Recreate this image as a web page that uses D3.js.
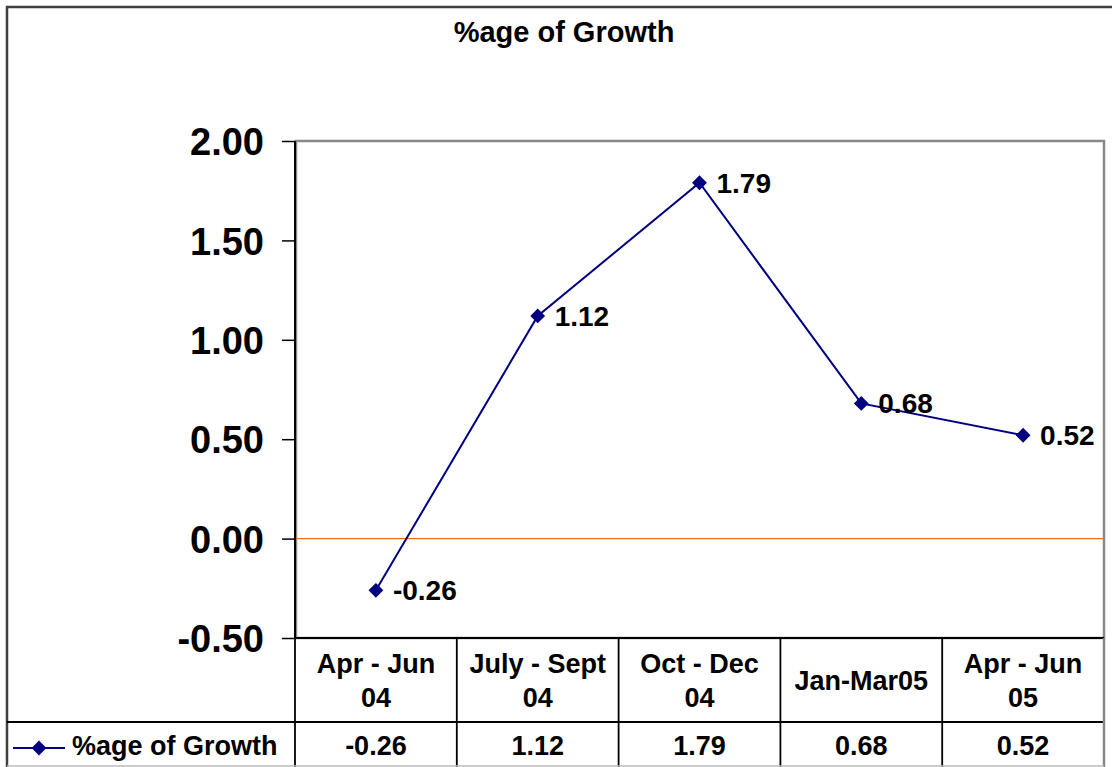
<!DOCTYPE html>
<html>
<head>
<meta charset="utf-8">
<script src="https://cdn.jsdelivr.net/npm/d3@7"></script>
<style>
  body { margin: 0; background: #fff; }
  svg { display: block; font-family: Arial, "Liberation Sans", sans-serif; font-weight: bold; }
</style>
</head>
<body>
<svg id="chart"></svg>
<script>
var categories = ["Apr - Jun 04", "July - Sept 04", "Oct - Dec 04", "Jan-Mar05", "Apr - Jun 05"];
var growth = [-0.26, 1.12, 1.79, 0.68, 0.52];
var yTicks = [-0.5, 0, 0.5, 1, 1.5, 2];
var seriesName = "%age of Growth";

var width = 1112, height = 767;
var plot = { left: 295, right: 1104, top: 141, bottom: 638 };
var tableRow1 = 722; // bottom of category row

// plain hyphen for negatives, like the original
var fmt = d3.formatLocale({ decimal: ".", thousands: ",", grouping: [3], currency: ["", ""], minus: "-" }).format(".2f");

var svg = d3.select("#chart").attr("width", width).attr("height", height);

// outer chart border (right and bottom go off the picture)
svg.append("rect")
  .attr("x", 7).attr("y", 7).attr("width", width + 20).attr("height", height + 20)
  .attr("fill", "#fff").attr("stroke", "#404040").attr("stroke-width", 2.5);

// title
svg.append("text")
  .attr("x", 564).attr("y", 42)
  .attr("text-anchor", "middle")
  .attr("font-size", 29)
  .text(seriesName);

var x = d3.scaleBand().domain(categories).range([plot.left, plot.right]).paddingInner(0).paddingOuter(0);
var y = d3.scaleLinear().domain([-0.5, 2]).range([plot.bottom, plot.top]);

// plot area border (grey top / right)
svg.append("rect")
  .attr("x", plot.left + 1).attr("y", plot.top)
  .attr("width", plot.right - plot.left - 1).attr("height", plot.bottom - plot.top)
  .attr("fill", "none").attr("stroke", "#888").attr("stroke-width", 2.5);

// zero line
svg.append("line")
  .attr("x1", plot.left).attr("x2", plot.right)
  .attr("y1", y(0)).attr("y2", y(0))
  .attr("stroke", "#e8701e").attr("stroke-width", 1.2);

// y axis
var yAxis = d3.axisLeft(y).tickValues(yTicks).tickFormat(fmt).tickSize(13).tickPadding(18);
var gy = svg.append("g").attr("transform", "translate(" + plot.left + ",0)").call(yAxis);
gy.select(".domain").attr("stroke", "#000").attr("stroke-width", 2).attr("d", "M0," + plot.top + "V" + plot.bottom);
gy.selectAll(".tick line").attr("stroke", "#000").attr("stroke-width", 1.5);
gy.selectAll(".tick text")
  .attr("font-size", 38).attr("font-weight", "bold").attr("font-family", "Arial, 'Liberation Sans', sans-serif")
  .attr("fill", "#000").attr("dy", "0.36em");

// data table
var table = svg.append("g").attr("stroke", "#000").attr("stroke-width", 1.8);
table.append("line").attr("x1", plot.left).attr("x2", plot.right).attr("y1", plot.bottom).attr("y2", plot.bottom);
table.append("line").attr("x1", 7).attr("x2", plot.right).attr("y1", tableRow1).attr("y2", tableRow1);
table.selectAll("line.div").data(categories).enter().append("line")
  .attr("class", "div")
  .attr("x1", function (d) { return x(d); }).attr("x2", function (d) { return x(d); })
  .attr("y1", plot.bottom).attr("y2", height);
table.append("line").attr("x1", plot.right).attr("x2", plot.right)
  .attr("y1", plot.bottom).attr("y2", height).attr("stroke", "#888").attr("stroke-width", 2.5);
table.append("line").attr("x1", 7).attr("x2", plot.right).attr("y1", 766).attr("y2", 766)
  .attr("stroke", "#bbb").attr("stroke-width", 1.5);

// category labels (wrapped)
var catText = svg.append("g").selectAll("text").data(categories).enter().append("text")
  .attr("text-anchor", "middle")
  .attr("font-size", 27)
  .attr("x", function (d) { return x(d) + x.bandwidth() / 2; });
catText.each(function (d) {
  var t = d3.select(this);
  t.text(d);
  var lines = [d];
  if (this.getComputedTextLength() > x.bandwidth() - 8 && d.lastIndexOf(" ") > 0) {
    var k = d.lastIndexOf(" ");
    lines = [d.slice(0, k), d.slice(k + 1)];
  }
  t.text(null);
  var lh = 34;
  var first = (plot.bottom + tableRow1) / 2 + 9.5 - (lines.length - 1) * lh / 2;
  lines.forEach(function (s, i) {
    t.append("tspan").attr("x", x(d) + x.bandwidth() / 2).attr("y", first + i * lh).text(s);
  });
});

// value row
svg.append("g").selectAll("text").data(growth).enter().append("text")
  .attr("text-anchor", "middle")
  .attr("font-size", 27)
  .attr("x", function (d, i) { return x(categories[i]) + x.bandwidth() / 2; })
  .attr("y", 755)
  .text(function (d) { return fmt(d); });

// legend key in table
var diamond = d3.symbol().type(d3.symbolDiamond2).size(140);
var lg = svg.append("g").attr("transform", "translate(0,748)");
lg.append("line").attr("x1", 13).attr("x2", 65).attr("y1", 0).attr("y2", 0)
  .attr("stroke", "#000080").attr("stroke-width", 2);
lg.append("path").attr("d", diamond).attr("transform", "translate(39,0)").attr("fill", "#000080");
lg.append("text").attr("x", 72).attr("y", 7).attr("font-size", 27).text(seriesName);

// series line
var line = d3.line()
  .x(function (d, i) { return x(categories[i]) + x.bandwidth() / 2; })
  .y(function (d) { return y(d); });
svg.append("path").datum(growth)
  .attr("d", line).attr("fill", "none").attr("stroke", "#000080").attr("stroke-width", 2);

svg.append("g").selectAll("path").data(growth).enter().append("path")
  .attr("d", diamond)
  .attr("transform", function (d, i) { return "translate(" + (x(categories[i]) + x.bandwidth() / 2) + "," + y(d) + ")"; })
  .attr("fill", "#000080");

// data labels
svg.append("g").selectAll("text").data(growth).enter().append("text")
  .attr("x", function (d, i) { return x(categories[i]) + x.bandwidth() / 2 + 17; })
  .attr("y", function (d) { return y(d); })
  .attr("dy", "0.36em")
  .attr("font-size", 28)
  .text(function (d) { return fmt(d); });
</script>
</body>
</html>
